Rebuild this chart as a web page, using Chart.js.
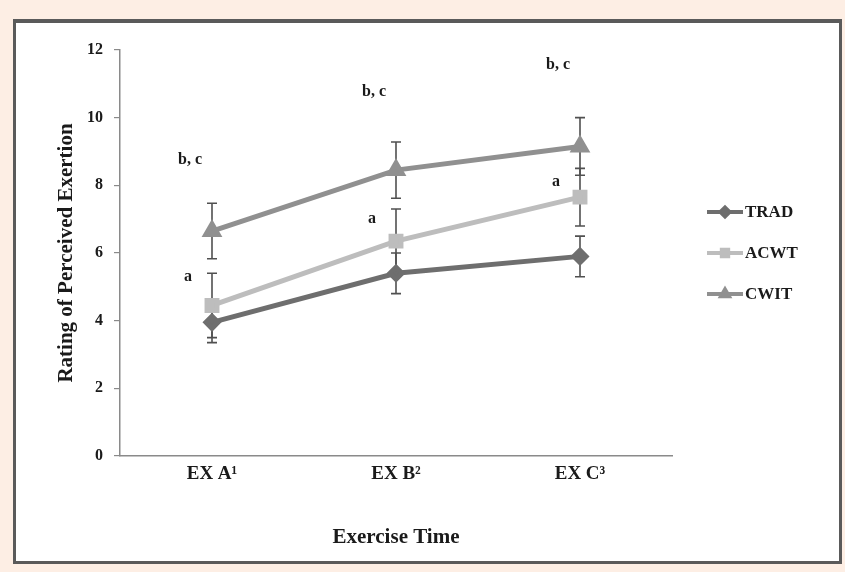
<!DOCTYPE html>
<html>
<head>
<meta charset="utf-8">
<script src="https://cdn.jsdelivr.net/npm/chart.js@4"></script>
<style>
    html, body { margin: 0; padding: 0; }
    body { width: 845px; height: 572px; background: #fdeee4; position: relative; overflow: hidden; }
    #frame {
        position: absolute; left: 13px; top: 19px;
        width: 823px; height: 538px;
        border: 3px solid #5a5a5a;
        border-top-width: 4px;
        background: #fff;
    }
    #rpeChart { display: block; }
</style>
</head>
<body>
<div id="frame"><canvas id="rpeChart" width="823" height="537"></canvas></div>
<script>
// 운동 시점별 RPE 평균 및 표준편차
const categories = ['EX A\u00B9', 'EX B\u00B2', 'EX C\u00B3'];
const tradValues = [3.95, 5.4, 5.9];
const acwtValues = [4.45, 6.35, 7.65];
const cwitValues = [6.65, 8.45, 9.15];
const tradErrors = [0.6, 0.6, 0.6];
const acwtErrors = [0.95, 0.95, 0.85];
const cwitErrors = [0.82, 0.83, 0.85];
const yTicks = [0, 2, 4, 6, 8, 10, 12];

// 유의차 표기 (텍스트, y 위치는 데이터 단위)
const bcLabels = ['b, c', 'b, c', 'b, c'];
const bcLabelY = [8.75, 10.75, 11.55];
const aLabels = ['a', 'a', 'a'];
const aLabelY = [5.3, 7.0, 8.1];

const SERIF = '"Liberation Serif", "Times New Roman", serif';

const series = [
    { label: 'TRAD', data: tradValues, errors: tradErrors, color: '#6e6e6e', style: 'rectRot', radius: 6 },
    { label: 'ACWT', data: acwtValues, errors: acwtErrors, color: '#bdbdbd', style: 'rect', radius: 7 },
    { label: 'CWIT', data: cwitValues, errors: cwitErrors, color: '#909090', style: 'triangle', radius: 7 }
];

// 오차 막대
const errorBarPlugin = {
    id: 'errorBars',
    beforeDatasetsDraw(chart) {
        const ctx = chart.ctx;
        const yScale = chart.scales.y;
        ctx.save();
        ctx.strokeStyle = '#505050';
        ctx.lineWidth = 1.6;
        chart.data.datasets.forEach((ds, i) => {
            const meta = chart.getDatasetMeta(i);
            meta.data.forEach((pt, j) => {
                const v = ds.data[j];
                const e = ds.errors[j];
                const top = yScale.getPixelForValue(v + e);
                const bottom = yScale.getPixelForValue(v - e);
                ctx.beginPath();
                ctx.moveTo(pt.x, top);
                ctx.lineTo(pt.x, bottom);
                ctx.moveTo(pt.x - 5, top);
                ctx.lineTo(pt.x + 5, top);
                ctx.moveTo(pt.x - 5, bottom);
                ctx.lineTo(pt.x + 5, bottom);
                ctx.stroke();
            });
        });
        ctx.restore();
    }
};

// 유의차 문자 + 범례
const labelPlugin = {
    id: 'sigLabels',
    afterDraw(chart) {
        const ctx = chart.ctx;
        const xScale = chart.scales.x;
        const yScale = chart.scales.y;
        const area = chart.chartArea;
        ctx.save();
        ctx.fillStyle = '#1a1a1a';
        ctx.font = 'bold 16px ' + SERIF;
        ctx.textAlign = 'center';
        ctx.textBaseline = 'middle';
        categories.forEach((c, i) => {
            const x = xScale.getPixelForValue(i);
            ctx.fillText(bcLabels[i], x - 22, yScale.getPixelForValue(bcLabelY[i]));
            ctx.fillText(aLabels[i], x - 24, yScale.getPixelForValue(aLabelY[i]));
        });

        // 범례
        const lx = area.right + 35;
        const cy = (area.top + area.bottom) / 2;
        ctx.textAlign = 'left';
        series.forEach((s, i) => {
            const y = cy + (i - 1) * 41;
            ctx.strokeStyle = s.color;
            ctx.lineWidth = 4;
            ctx.beginPath();
            ctx.moveTo(lx, y);
            ctx.lineTo(lx + 36, y);
            ctx.stroke();
            Chart.helpers.drawPoint(ctx, {
                pointStyle: s.style, radius: 4.5, borderWidth: 1,
                rotation: 0
            }, lx + 18, y);
            ctx.fillStyle = s.color;
            ctx.fill();
            ctx.fillStyle = '#1a1a1a';
            ctx.font = 'bold 17px ' + SERIF;
            ctx.fillText(s.label, lx + 38, y + 1);
        });
        ctx.restore();
    }
};

const ctx = document.getElementById('rpeChart').getContext('2d');
new Chart(ctx, {
    type: 'line',
    data: {
        labels: categories,
        datasets: series.map(s => ({
            label: s.label,
            data: s.data,
            errors: s.errors,
            borderColor: s.color,
            backgroundColor: s.color,
            borderWidth: 5,
            pointStyle: s.style,
            pointRadius: s.radius,
            pointBackgroundColor: s.color,
            pointBorderColor: s.color,
            tension: 0,
            fill: false
        }))
    },
    options: {
        responsive: false,
        animation: false,
        layout: { padding: { left: 28, right: 167, top: 27, bottom: 0 } },
        plugins: {
            legend: { display: false },
            tooltip: { enabled: false }
        },
        scales: {
            x: {
                offset: true,
                grid: { display: true, drawOnChartArea: false, drawTicks: false, color: 'rgba(0,0,0,0)' },
                border: { display: true, color: '#8a8a8a', width: 1.5 },
                ticks: { color: '#1a1a1a', padding: 7, font: { family: SERIF, size: 19, weight: 'bold' } },
                title: {
                    display: true, text: 'Exercise Time', color: '#1a1a1a',
                    font: { family: SERIF, size: 21, weight: 'bold' },
                    padding: { top: 0, bottom: 10 }
                },
                afterFit(scale) { scale.height = 104; }
            },
            y: {
                min: 0,
                max: 12,
                afterBuildTicks(scale) { scale.ticks = yTicks.map(v => ({ value: v })); },
                grid: { drawOnChartArea: false, drawTicks: true, tickLength: 6, color: '#8a8a8a', lineWidth: 1.2 },
                border: { display: true, color: '#8a8a8a', width: 1.5 },
                ticks: { color: '#1a1a1a', padding: 11, font: { family: SERIF, size: 16, weight: 'bold' } },
                title: {
                    display: true, text: 'Rating of Perceived Exertion', color: '#1a1a1a',
                    font: { family: SERIF, size: 21, weight: 'bold' },
                    padding: { top: 10, bottom: 0 }
                },
                afterFit(scale) { scale.width = 76; }
            }
        }
    },
    plugins: [errorBarPlugin, labelPlugin]
});
</script>
</body>
</html>
